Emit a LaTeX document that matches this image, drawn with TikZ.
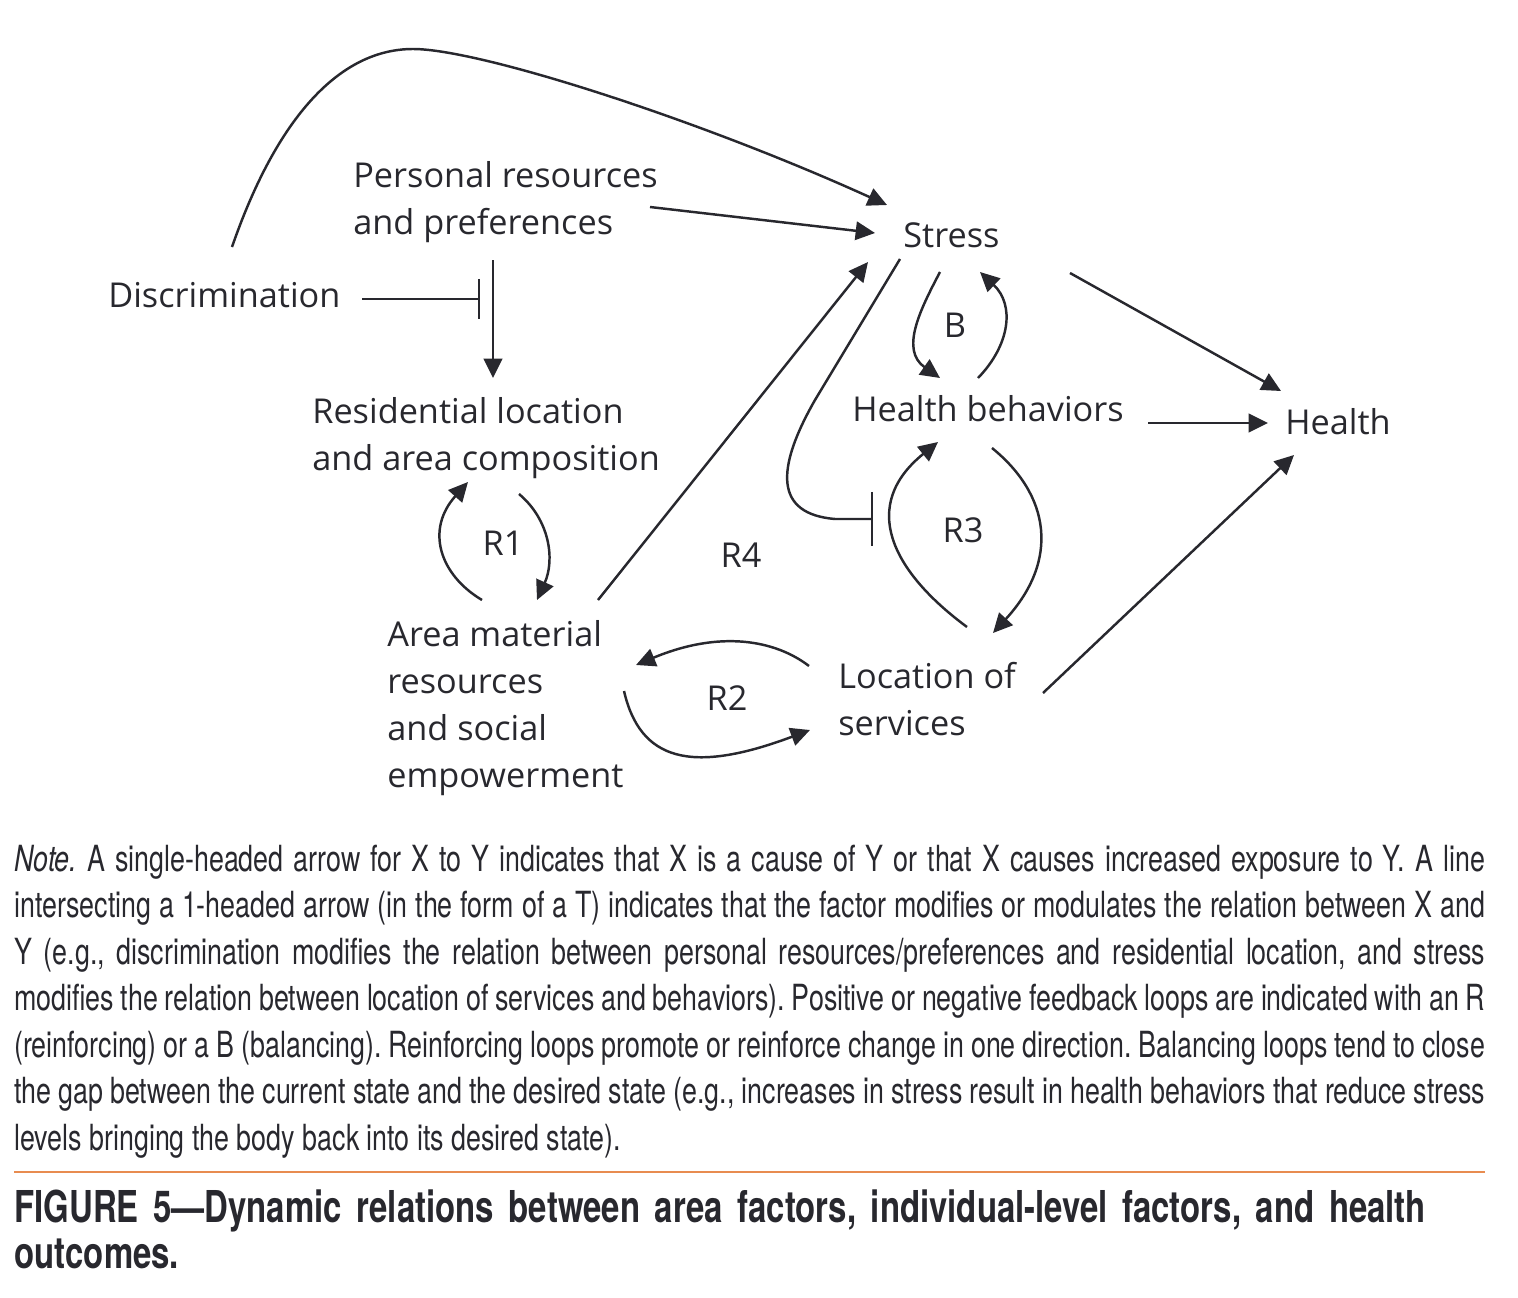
\documentclass[tikz,border=0pt]{standalone}
\usepackage{fontspec}
\setmainfont{Open Sans}
\newfontfamily\notefont[FakeStretch=0.745]{TeX Gyre Heros}
\newfontfamily\capfont[FakeStretch=0.75]{TeX Gyre Heros}
\usetikzlibrary{arrows.meta}
\definecolor{ink}{RGB}{40,40,46}
\definecolor{rulecol}{RGB}{232,140,80}

\begin{document}
\begin{tikzpicture}[
                x = 0.02cm, y = -0.02cm,
                lbl/.style = {anchor = base west, inner sep = 0mm, align = left, text = ink, font = \fontsize{19.5}{26.7}\selectfont},
                loopname/.style = {anchor = base, inner sep = 0mm, text = ink, font = \fontsize{19.5}{26.7}\selectfont},
                arr/.style = {draw = ink, line width = 1.4pt, -{Triangle[length = 11pt, width = 10.5pt]}},
                modline/.style = {draw = ink, line width = 1.4pt, -{Bar[width = 23pt]}},
                notetext/.style = {anchor = base west, inner sep = 0mm, text width = 29.42cm, text = ink},
            ]
            \useasboundingbox (0,0) rectangle (1518,1298);

            % multi-line labels sit on the baseline of their last line
            \node (Personal) [lbl] at (353,234) {Personal resources\\and preferences};
            \node (Discrimination) [lbl] at (108,307) {Discrimination};
            \node (Stress) [lbl] at (903,247) {Stress};
            \node (Residential) [lbl] at (312,470) {Residential location\\and area composition};
            \node (Healthb) [lbl] at (852,421) {Health behaviors};
            \node (Health) [lbl] at (1285,434) {Health};
            \node (Area) [lbl] at (387,787) {Area material\\resources\\and social\\empowerment};
            \node (Services) [lbl] at (838,735) {Location of\\services};

            \node (B) [loopname] at (955,337) {B};
            \node (R1) [loopname] at (503,555) {R1};
            \node (R2) [loopname] at (727,710) {R2};
            \node (R3) [loopname] at (963,542) {R3};
            \node (R4) [loopname] at (741,567) {R4};

            % discrimination and personal resources
            \path[arr] ([shift={(124,-60)}]Discrimination.base west)
                .. controls +(45,-130) and +(-73,0) .. ++(181,-198)
                .. controls +(67,0) and +(-187,-85) .. ([shift={(-16,-42)}]Stress.base west);
            \path[arr] ([shift={(297,-27)}]Personal.base west) -- ([shift={(-28,-14)}]Stress.base west);
            \path[arr] ([shift={(140,26)}]Personal.base west) -- ([shift={(181,-92)}]Residential.base west);
            \path[modline] ([shift={(254,-8)}]Discrimination.base west) -- ([shift={(127,65)}]Personal.base west);

            % R1
            \path[arr] ([shift={(95,-187)}]Area.base west)
                .. controls +(-42,-25) and +(-43,48) .. ([shift={(156,12)}]Residential.base west);
            \path[arr] ([shift={(207,24)}]Residential.base west)
                .. controls +(31,26) and +(18,-40) .. ([shift={(150,-187)}]Area.base west);

            % R4
            \path[arr] ([shift={(211,-187)}]Area.base west) -- ([shift={(-35,15)}]Stress.base west);
            \path[modline, -{Bar[width = 31pt]}] ([shift={(-3,12)}]Stress.base west) -- ++(-85,141)
                .. controls +(-40,70) and +(-60,-5) .. ++(20,119)
                -- ([shift={(21,98)}]Healthb.base west);

            % B
            \path[arr] ([shift={(37,25)}]Stress.base west)
                .. controls +(-20,38) and +(-40,-28) .. ([shift={(88,-43)}]Healthb.base west);
            \path[arr] ([shift={(126,-43)}]Healthb.base west)
                .. controls +(32,-33) and +(35,33) .. ([shift={(77,25)}]Stress.base west);

            % R3
            \path[arr] ([shift={(129,-108)}]Services.base west)
                .. controls +(-77,-57) and +(-78,63) .. ([shift={(86,21)}]Healthb.base west);
            \path[arr] ([shift={(140,27)}]Healthb.base west)
                .. controls +(58,47) and +(67,-73) .. ([shift={(155,-102)}]Services.base west);

            % R2
            \path[arr] ([shift={(-29,-69)}]Services.base west)
                .. controls +(-34,-26) and +(84,-35) .. ([shift={(249,-122)}]Area.base west);
            \path[arr] ([shift={(237,-96)}]Area.base west)
                .. controls +(16,69) and +(-120,45) .. ([shift={(-28,-5)}]Services.base west);

            % to health
            \path[arr] ([shift={(296,2)}]Healthb.base west) -- ([shift={(-17,-11)}]Health.base west);
            \path[arr] ([shift={(167,26)}]Stress.base west) -- ([shift={(-4,-43)}]Health.base west);
            \path[arr] ([shift={(205,-42)}]Services.base west) -- ([shift={(9,21)}]Health.base west);

            % note and caption
            \node (Note) [notetext, align = justify, font = \notefont\fontsize{20.5}{26.5}\selectfont] at (14,871)
                {\tolerance=10000\emergencystretch=2em\frenchspacing
                \textit{Note.} A single-headed arrow for X to Y indicates that X is a cause of Y or that X causes increased exposure to Y. A line\linebreak
                intersecting a 1-headed arrow (in the form of a T) indicates that the factor modifies or modulates the relation between X and\linebreak
                Y (e.g., discrimination modifies the relation between personal resources/preferences and residential location, and stress\linebreak
                modifies the relation between location of services and behaviors). Positive or negative feedback loops are indicated with an R\linebreak
                (reinforcing) or a B (balancing). Reinforcing loops promote or reinforce change in one direction. Balancing loops tend to close\linebreak
                the gap between the current state and the desired state (e.g., increases in stress result in health behaviors that reduce stress\linebreak
                levels bringing the body back into its desired state).};
            \coordinate (RuleL) at (14,1172);
            \coordinate (RuleR) at (1485,1172);
            \draw[rulecol, line width = 0.9pt] (RuleL) -- (RuleR);
            \node (Caption) [notetext, align = left, font = \capfont\bfseries\fontsize{25}{26.2}\selectfont] at (14,1222)
                {FIGURE 5—Dynamic relations between area factors, individual-level factors, and health\\outcomes.};
        \end{tikzpicture}
\end{document}
